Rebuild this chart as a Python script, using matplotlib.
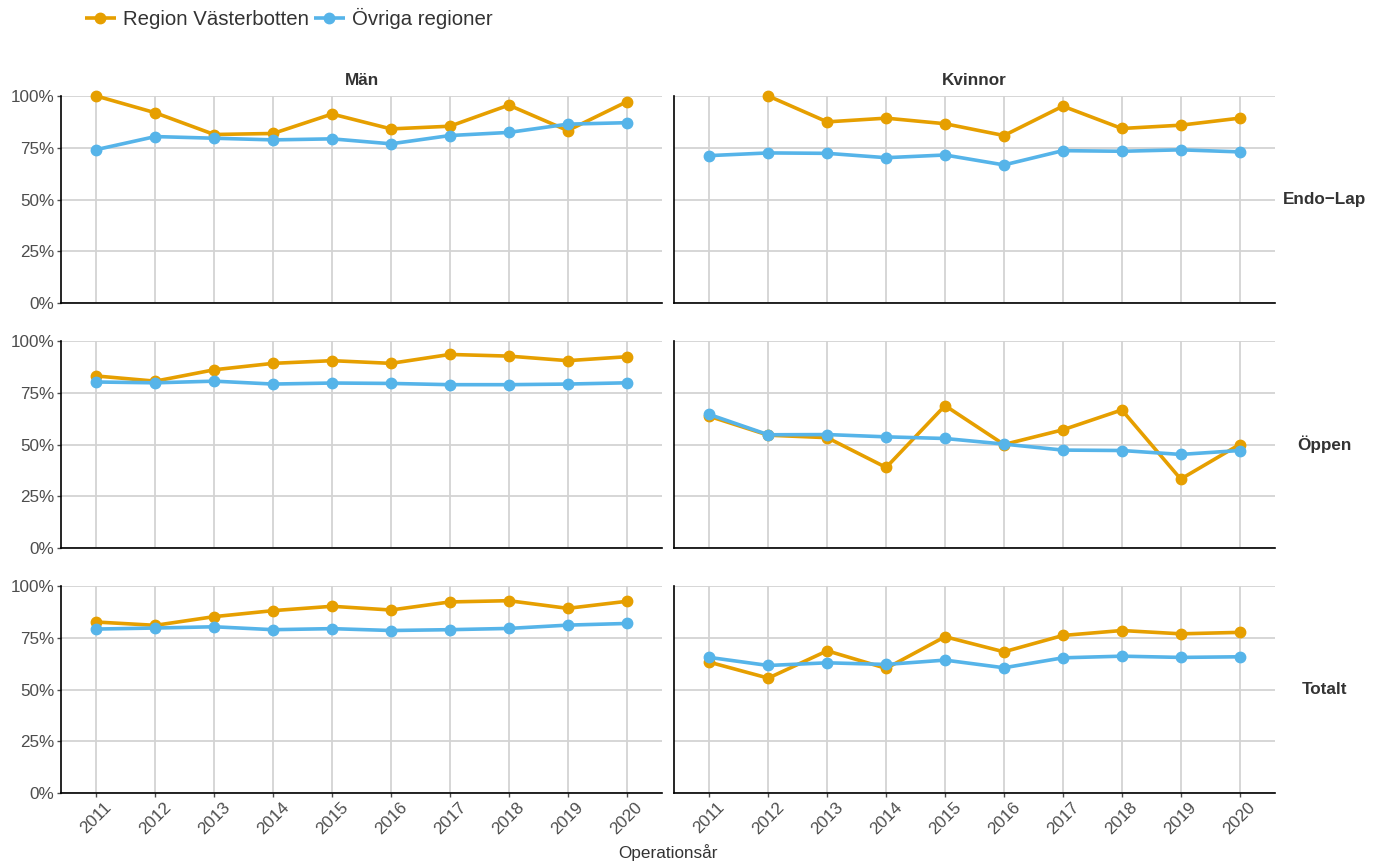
import numpy as np
import matplotlib.pyplot as plt
from matplotlib.ticker import PercentFormatter

plt.rcParams['font.family'] = ['Liberation Sans', 'DejaVu Sans']

years = [2011, 2012, 2013, 2014, 2015, 2016, 2017, 2018, 2019, 2020]
sexes = ["Män", "Kvinnor"]
methods = ["Endo\u2212Lap", "Öppen", "Totalt"]
series = ["Region Västerbotten", "Övriga regioner"]

# andel (%) per metod och kön
vb_man_endo = [100, 91.9, 81.4, 81.9, 91.3, 84.1, 85.4, 95.6, 83.3, 97.2]
ov_man_endo = [74.1, 80.4, 79.6, 78.8, 79.3, 76.9, 80.9, 82.4, 86.4, 87.1]
vb_kv_endo = [np.nan, 100, 87.5, 89.3, 86.6, 80.9, 95.1, 84.3, 85.9, 89.3]
ov_kv_endo = [71.2, 72.5, 72.3, 70.2, 71.5, 66.7, 73.6, 73.3, 74.0, 73.0]

vb_man_oppen = [83.1, 80.6, 86.1, 89.2, 90.5, 89.2, 93.5, 92.7, 90.5, 92.4]
ov_man_oppen = [80.2, 79.8, 80.6, 79.2, 79.7, 79.5, 78.9, 78.9, 79.2, 79.8]
vb_kv_oppen = [63.6, 54.5, 53.3, 38.9, 68.8, 50.0, 57.1, 66.7, 33.3, 50.0]
ov_kv_oppen = [64.5, 54.7, 54.8, 53.7, 52.9, 50.2, 47.3, 47.1, 45.2, 47.1]

vb_man_tot = [82.6, 81.0, 85.2, 88.1, 90.2, 88.4, 92.3, 92.9, 89.2, 92.6]
ov_man_tot = [79.2, 79.7, 80.3, 78.9, 79.4, 78.5, 78.9, 79.5, 81.1, 81.9]
vb_kv_tot = [63.2, 55.5, 68.7, 60.2, 75.5, 68.2, 76.1, 78.5, 76.9, 77.6]
ov_kv_tot = [65.5, 61.6, 62.9, 62.1, 64.2, 60.5, 65.3, 66.1, 65.5, 65.8]

data = [
    [(vb_man_endo, ov_man_endo), (vb_kv_endo, ov_kv_endo)],
    [(vb_man_oppen, ov_man_oppen), (vb_kv_oppen, ov_kv_oppen)],
    [(vb_man_tot, ov_man_tot), (vb_kv_tot, ov_kv_tot)],
]

colors = ["#E69F00", "#56B4E9"]
grid_col = "#D3D3D3"
text_col = "#4D4D4D"
fs = 12.3

fig = plt.figure(figsize=(13.8, 8.63), dpi=100)

lefts = [61 / 1380, 674 / 1380]
width = 601 / 1380
tops = [96, 341, 586]
height = 207 / 863

x = np.arange(len(years))
handles = []
for r in range(3):
    for c in range(2):
        ax = fig.add_axes([lefts[c], 1 - (tops[r] + 207) / 863, width, height])
        for k in range(2):
            vals = np.array(data[r][c][k], dtype=float) / 100
            h, = ax.plot(x, vals, color=colors[k], lw=2.6, marker='o', ms=7.5,
                         solid_capstyle='butt', zorder=3, clip_on=False)
            if r == 0 and c == 0:
                handles.append(h)
        ax.set_xlim(-0.6, len(years) - 0.4)
        ax.set_ylim(0, 1)
        ax.set_yticks([0, 0.25, 0.5, 0.75, 1.0])
        ax.set_xticks(x)
        ax.yaxis.set_major_formatter(PercentFormatter(1.0, decimals=0))
        ax.grid(True, color=grid_col, lw=1.3, zorder=0)
        ax.set_axisbelow(True)
        for s in ['top', 'right']:
            ax.spines[s].set_visible(False)
        for s in ['left', 'bottom']:
            ax.spines[s].set_color('black')
            ax.spines[s].set_linewidth(1.2)
        ax.tick_params(colors=text_col, labelsize=fs, length=3, width=1,
                       labelcolor=text_col, pad=2)
        if c == 1:
            ax.tick_params(axis='y', left=False, labelleft=False)
        if r < 2:
            ax.tick_params(axis='x', bottom=False, labelbottom=False)
        else:
            ax.set_xticklabels(years, rotation=45, ha='center', va='top')
        if r == 0:
            ax.set_title(sexes[c], fontsize=fs, fontweight='bold',
                         color='#333333', pad=8)
        if c == 1:
            ax.text(1.083, 0.5, methods[r], transform=ax.transAxes,
                    ha='center', va='center', fontsize=fs,
                    fontweight='bold', color='#333333')

fig.text(668 / 1380, 1 - 853 / 863, "Operationsår", ha='center', va='center',
         fontsize=fs, color='#333333')

fig.legend(handles, series, loc='upper left', bbox_to_anchor=(85 / 1380, 1 - 8 / 863),
           ncol=2, frameon=False, fontsize=14.7, handlelength=1.5, borderpad=0,
           borderaxespad=0, columnspacing=0.25, handletextpad=0.35,
           labelcolor='#333333')

fig.savefig("out.png", dpi=100)
